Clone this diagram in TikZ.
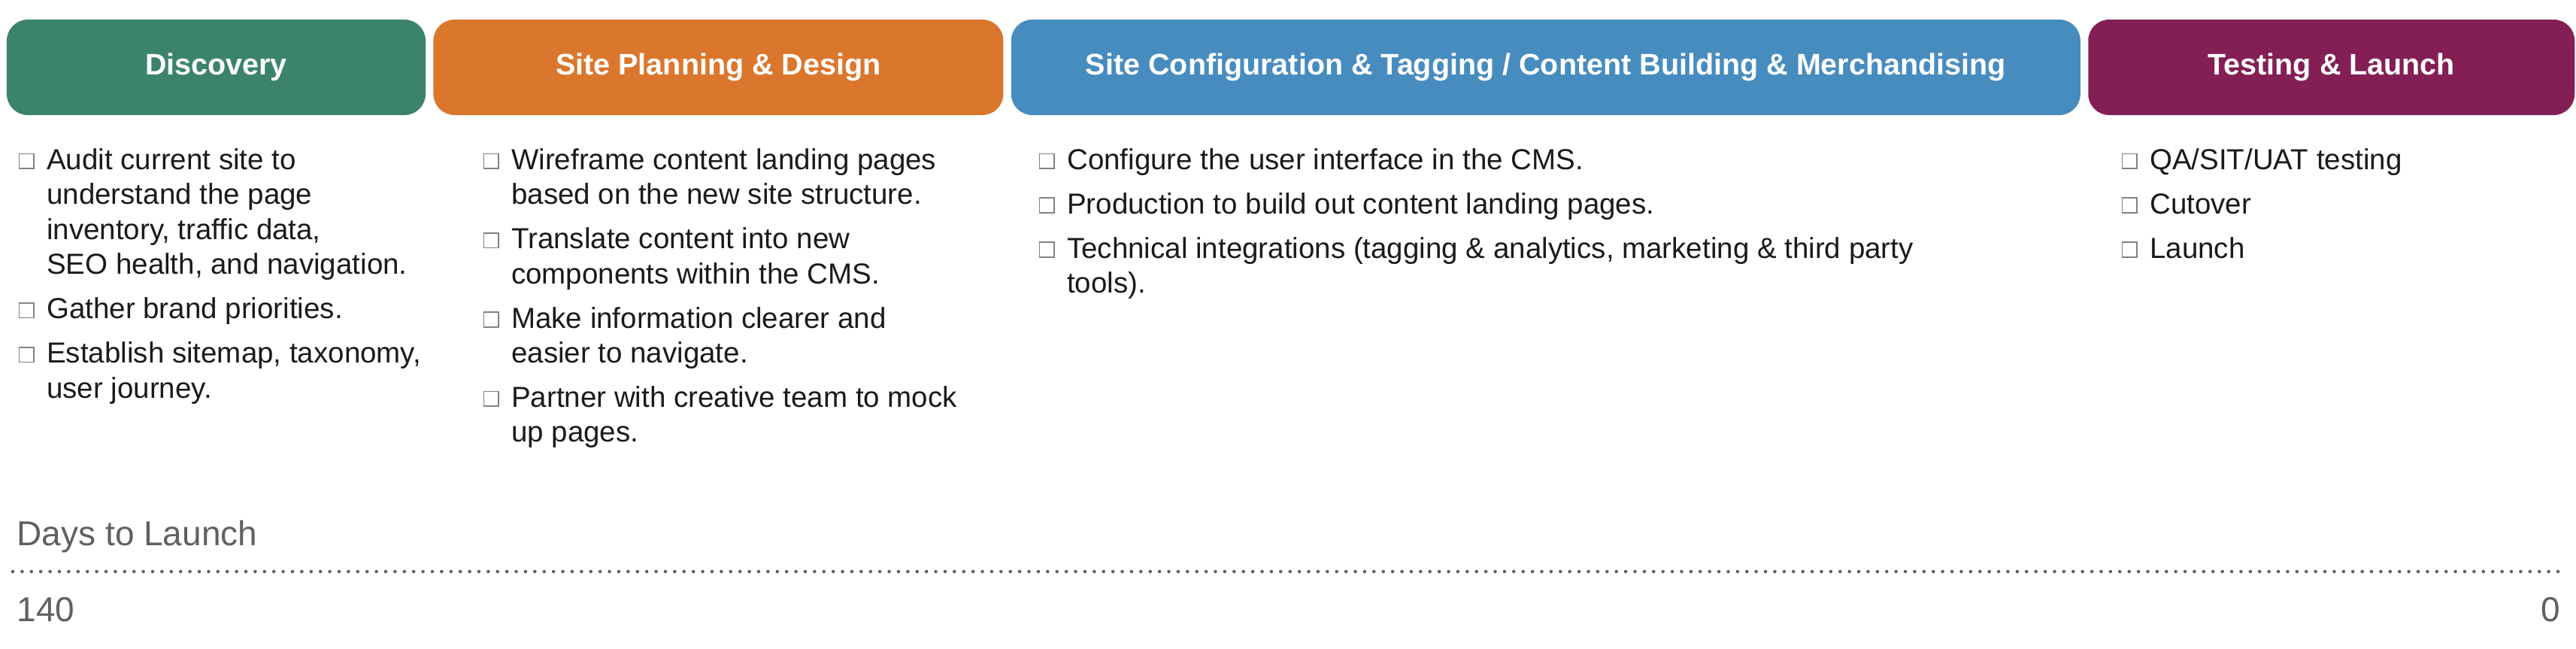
\documentclass[tikz,border=0pt]{standalone}
\usepackage{fontspec}
\setmainfont{Liberation Sans}
\usepackage{xcolor}
\usepackage{tikz}
\usetikzlibrary{positioning}
\definecolor{discgreen}{RGB}{59,132,107}
\definecolor{planorange}{RGB}{219,119,45}
\definecolor{confblue}{RGB}{71,140,191}
\definecolor{launchplum}{RGB}{131,31,85}
\definecolor{axisgray}{RGB}{96,96,96}
\definecolor{boxgray}{RGB}{130,130,130}
\definecolor{tasktext}{RGB}{26,26,26}
\newcommand{\chkbox}{\raisebox{0.02cm}{\textcolor{boxgray}{\fboxsep=0pt\fboxrule=0.5pt\fbox{\rule{0pt}{0.18cm}\hspace{0.18cm}}}}}
\newcommand{\task}[1]{\chkbox\hspace{0.16cm}\begin{tabular}[t]{@{}l@{}}#1\end{tabular}}

\begin{document}
\begin{tikzpicture}[
        node distance=0.11cm,
        every node/.style={font=\fontsize{0.385cm}{0.465cm}\selectfont},
        phase/.style={rectangle, rounded corners=0.28cm, minimum height=1.27cm, inner sep=0, text=white, font=\fontsize{0.395cm}{0.47cm}\selectfont\bfseries},
        task/.style={anchor=north west, inner sep=0, text=tasktext},
        taskbelow/.style={below=of #1.south west, anchor=north west},
        axislabel/.style={inner sep=0, text=axisgray, font=\fontsize{0.46cm}{0.55cm}\selectfont}
    ]
        \useasboundingbox (0,0) rectangle (34.26,-8.62);

        % Phases
        \node[phase, fill=discgreen, minimum width=5.57cm] (discovery) at (2.875,-0.895) {Discovery};
        \node[phase, fill=planorange, minimum width=7.58cm, right=0.09cm of discovery] (planning) {Site Planning \& Design};
        \node[phase, fill=confblue, minimum width=14.22cm, right=0.09cm of planning] (config) {Site Configuration \& Tagging / Content Building \& Merchandising};
        \node[phase, fill=launchplum, minimum width=6.47cm, right=0.09cm of config] (launch) {Testing \& Launch};

        % Discovery tasks
        \node[task] (disc1) at (0.24,-1.92) {\task{Audit current site to\\understand the page\\inventory, traffic data,\\SEO health, and navigation.}};
        \node[task, taskbelow=disc1] (disc2) {\task{Gather brand priorities.}};
        \node[task, taskbelow=disc2] (disc3) {\task{Establish sitemap, taxonomy,\\user journey.}};

        % Planning tasks
        \node[task] (plan1) at (6.42,-1.92) {\task{Wireframe content landing pages\\based on the new site structure.}};
        \node[task, taskbelow=plan1] (plan2) {\task{Translate content into new\\components within the CMS.}};
        \node[task, taskbelow=plan2] (plan3) {\task{Make information clearer and\\easier to navigate.}};
        \node[task, taskbelow=plan3] (plan4) {\task{Partner with creative team to mock\\up pages.}};

        % Configuration tasks
        \node[task] (conf1) at (13.81,-1.92) {\task{Configure the user interface in the CMS.}};
        \node[task, taskbelow=conf1] (conf2) {\task{Production to build out content landing pages.}};
        \node[task, taskbelow=conf2] (conf3) {\task{Technical integrations (tagging \& analytics, marketing \& third party\\tools).}};

        % Launch tasks
        \node[task] (test1) at (28.21,-1.92) {\task{QA/SIT/UAT testing}};
        \node[task, taskbelow=test1] (test2) {\task{Cutover}};
        \node[task, taskbelow=test2] (test3) {\task{Launch}};

        % Days to launch
        \node[axislabel, anchor=west] (days) at (0.22,-7.14) {Days to Launch};
        \coordinate (axisstart) at (0.17,-7.60);
        \coordinate (axisend) at (34.13,-7.60);
        \draw[axisgray, line width=0.045cm, line cap=round, dash pattern=on 0pt off 0.124cm] (axisstart) -- (axisend);
        \node[axislabel, anchor=west] (daysmax) at (0.22,-8.11) {140};
        \node[axislabel, anchor=east] (daysmin) at (34.06,-8.11) {0};

    \end{tikzpicture}
\end{document}
